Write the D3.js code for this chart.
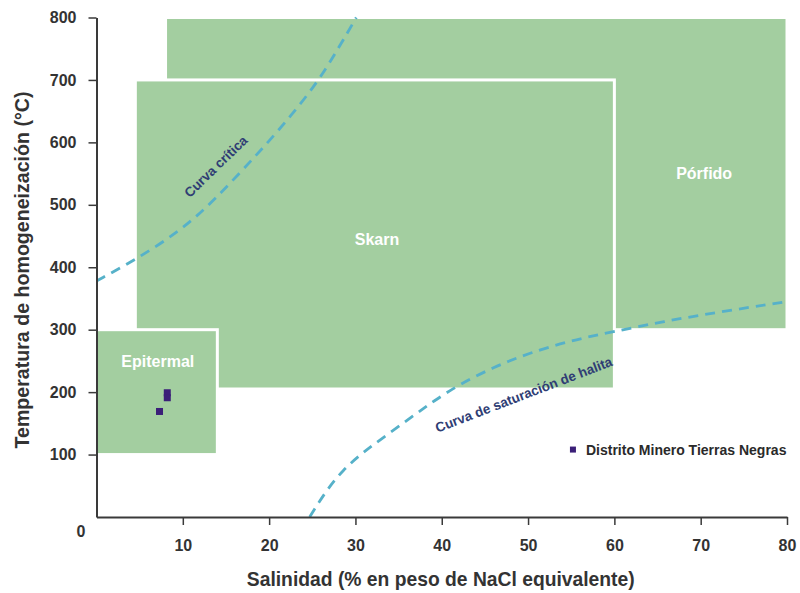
<!DOCTYPE html>
<html>
<head>
<meta charset="utf-8">
<script src="https://cdn.jsdelivr.net/npm/d3@7"></script>
<style>
  html, body { margin: 0; padding: 0; background: #fff; }
  svg { display: block; font-family: "Liberation Sans", Arial, sans-serif; }
</style>
</head>
<body>
<svg id="chart" width="800" height="593"></svg>
<script>
// Fluid-inclusion fields (salinity wt% NaCl eq. vs homogenization temperature °C)
const zoneNames = ["Pórfido", "Skarn", "Epitermal"];
const zoneSalMin = [8, 4.5, 0];
const zoneSalMax = [80, 60, 14];
const zoneTMin = [300, 205, 100];
const zoneTMax = [800, 700, 300];
const zoneLabelSal = [70.4, 32.5, 7.1];
const zoneLabelT = [550, 445, 250];

// Critical curve of the H2O–NaCl system
const criticalSal = [0, 4.5, 9.7, 13.5, 18.9, 22.4, 25.7, 28, 30.1];
const criticalT = [378, 412, 458, 505, 585, 640, 698, 750, 800];

// Halite saturation curve
const haliteSal = [24.7, 26.5, 28.5, 31, 34, 37, 39, 42, 46, 50, 55, 60, 66, 72, 80];
const haliteT = [0, 40, 75, 105, 135, 165, 185, 212, 240, 262, 283, 297, 314, 328, 345];

// Measured inclusions
const sampleSal = [8.2, 8.2, 7.3];
const sampleT = [199, 191, 169];
const sampleName = "Distrito Minero Tierras Negras";

const xTicks = [10, 20, 30, 40, 50, 60, 70, 80];
const yTicks = [100, 200, 300, 400, 500, 600, 700, 800];

const svg = d3.select("#chart");
const x = d3.scaleLinear().domain([0, 80]).range([96.5, 787]);
const y = d3.scaleLinear().domain([0, 800]).range([517, 17.5]);

const green = "#a3cea0";
const curveColor = "#56b1c9";
const labelBlue = "#2f3d74";
const axisColor = "#3a3a3a";

// Zones
const zones = zoneNames.map((n, i) => ({
  name: n, x0: zoneSalMin[i], x1: zoneSalMax[i], t0: zoneTMin[i], t1: zoneTMax[i],
  lx: zoneLabelSal[i], lt: zoneLabelT[i]
}));
svg.append("g").selectAll("rect").data(zones).join("rect")
  .attr("x", d => x(d.x0))
  .attr("y", d => y(d.t1))
  .attr("width", d => x(d.x1) - x(d.x0))
  .attr("height", d => y(d.t0) - y(d.t1))
  .attr("fill", green)
  .attr("stroke", "#fff")
  .attr("stroke-width", 3);

svg.append("g").selectAll("text").data(zones).join("text")
  .attr("x", d => x(d.lx))
  .attr("y", d => y(d.lt))
  .attr("dy", "0.36em")
  .attr("text-anchor", "middle")
  .attr("fill", "#fff")
  .attr("font-weight", "bold")
  .attr("font-size", 16)
  .text(d => d.name);

// Curves
const line = d3.line().x(d => x(d[0])).y(d => y(d[1])).curve(d3.curveBasis);
const critical = criticalSal.map((s, i) => [s, criticalT[i]]);
const halite = haliteSal.map((s, i) => [s, haliteT[i]]);
[critical, halite].forEach(pts => {
  svg.append("path")
    .attr("d", line(pts))
    .attr("fill", "none")
    .attr("stroke", curveColor)
    .attr("stroke-width", 2.8)
    .attr("stroke-dasharray", "10,7");
});

svg.append("text")
  .attr("transform", `translate(${x(14.2)},${y(556)}) rotate(-44)`)
  .attr("text-anchor", "middle")
  .attr("fill", labelBlue)
  .attr("font-weight", "bold")
  .attr("font-size", 13.5)
  .text("Curva crítica");

svg.append("text")
  .attr("transform", `translate(${x(49.7)},${y(189)}) rotate(-21)`)
  .attr("text-anchor", "middle")
  .attr("fill", labelBlue)
  .attr("font-weight", "bold")
  .attr("font-size", 13.5)
  .text("Curva de saturación de halita");

// Samples
const samples = sampleSal.map((s, i) => ({ s, t: sampleT[i] }));
svg.append("g").selectAll("rect").data(samples).join("rect")
  .attr("x", d => x(d.s) - 3.5)
  .attr("y", d => y(d.t) - 3.5)
  .attr("width", 7)
  .attr("height", 7)
  .attr("fill", "#3b1f78");

// Legend
const legend = svg.append("g").attr("transform", `translate(${x(55.2)},${y(108)})`);
legend.append("rect").attr("x", -3).attr("y", -3).attr("width", 6).attr("height", 6).attr("fill", "#3b1f78");
legend.append("text").attr("x", 13).attr("dy", "0.36em")
  .attr("font-size", 14).attr("font-weight", "bold").attr("fill", "#2a2a2a")
  .text(sampleName);

// Axes
const xAxis = svg.append("g").attr("transform", `translate(0,${y(0)})`)
  .call(d3.axisBottom(x).tickValues(xTicks).tickFormat(d3.format("d")).tickSizeInner(8).tickSizeOuter(0).tickPadding(15));
const yAxis = svg.append("g").attr("transform", `translate(${x(0)},0)`)
  .call(d3.axisLeft(y).tickValues(yTicks).tickFormat(d3.format("d")).tickSizeInner(8).tickSizeOuter(0).tickPadding(12));
[xAxis, yAxis].forEach(g => {
  g.select(".domain").attr("stroke", axisColor).attr("stroke-width", 2);
  g.selectAll(".tick line").attr("stroke", axisColor).attr("stroke-width", 1.5);
  g.selectAll(".tick text").attr("fill", "#333").attr("font-size", 16).attr("font-weight", "bold")
    .attr("font-family", "Liberation Sans, Arial, sans-serif");
});

// Shared origin label
svg.append("text")
  .attr("x", x(0) - 15.5)
  .attr("y", y(0) + 20)
  .attr("text-anchor", "middle")
  .attr("fill", "#333").attr("font-size", 16).attr("font-weight", "bold")
  .text("0");

// Axis titles
svg.append("text")
  .attr("x", (x(0) + x(80)) / 2 - 1)
  .attr("y", 586)
  .attr("text-anchor", "middle")
  .attr("fill", "#333").attr("font-size", 19.3).attr("font-weight", "bold")
  .text("Salinidad (% en peso de NaCl equivalente)");

svg.append("text")
  .attr("transform", `translate(29,270) rotate(-90)`)
  .attr("text-anchor", "middle")
  .attr("fill", "#333").attr("font-size", 19.6).attr("font-weight", "bold")
  .text("Temperatura de homogeneización (°C)");
</script>
</body>
</html>
